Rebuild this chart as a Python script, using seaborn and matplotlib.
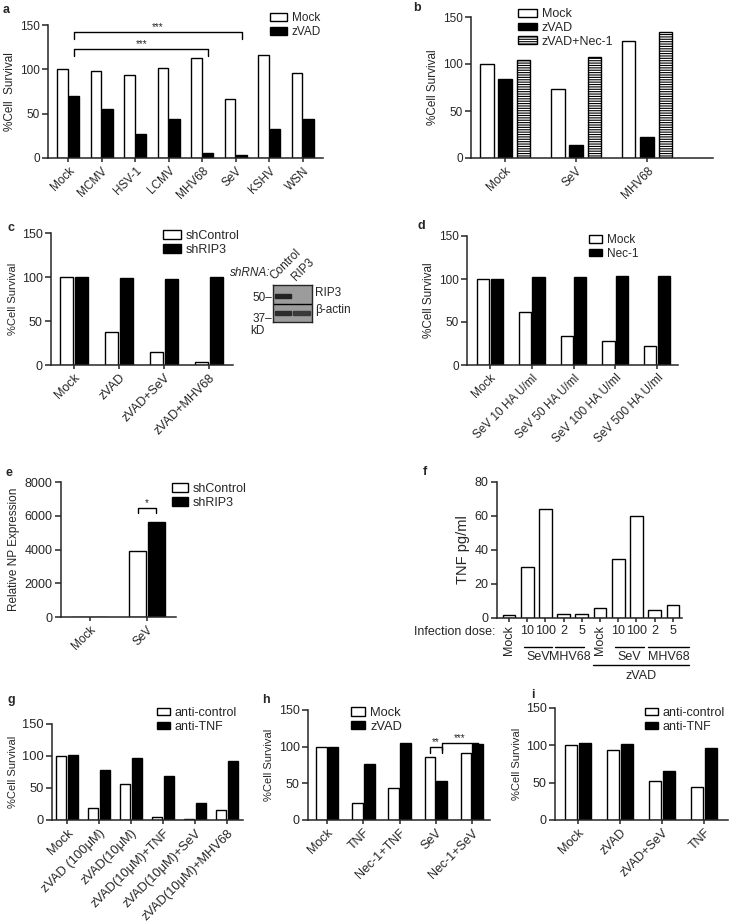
import pandas as pd
import seaborn as sns
import matplotlib.pyplot as plt
from matplotlib.patches import Patch, Rectangle

sns.set_theme(style="ticks")
plt.rcParams['font.family'] = ['Liberation Sans', 'DejaVu Sans']
plt.rcParams['hatch.linewidth'] = 0.8

W, H = 730, 923

# ---- data ----
a_cats = ["Mock", "MCMV", "HSV-1", "LCMV", "MHV68", "SeV", "KSHV", "WSN"]
a_mock = [100, 98, 94, 102, 113, 67, 116, 96]
a_zvad = [70, 55, 27, 44, 6, 3, 33, 44]

b_cats = ["Mock", "SeV", "MHV68"]
b_mock = [100, 73, 124]
b_zvad = [84, 14, 22]
b_nec = [104, 107, 134]

c_cats = ["Mock", "zVAD", "zVAD+SeV", "zVAD+MHV68"]
c_shctrl = [100, 38, 15, 3]
c_shrip3 = [100, 99, 98, 100]

d_cats = ["Mock", "SeV 10 HA U/ml", "SeV 50 HA U/ml", "SeV 100 HA U/ml", "SeV 500 HA U/ml"]
d_mock = [100, 62, 34, 28, 22]
d_nec = [100, 102, 102, 103, 104]

e_cats = ["Mock", "SeV"]
e_shctrl = [0, 3900]
e_shrip3 = [0, 5650]

f_conds = ["Mock", "SeV 10", "SeV 100", "MHV68 2", "MHV68 5",
           "zVAD Mock", "zVAD SeV 10", "zVAD SeV 100", "zVAD MHV68 2", "zVAD MHV68 5"]
f_dose = ["Mock", "10", "100", "2", "5", "Mock", "10", "100", "2", "5"]
f_tnf = [2, 30, 64, 2.5, 2.5, 6, 35, 60, 4.5, 7.5]

g_cats = ["Mock", "zVAD (100μM)", "zVAD(10μM)", "zVAD(10μM)+TNF",
          "zVAD(10μM)+SeV", "zVAD(10μM)+MHV68"]
g_ctrl = [100, 18, 57, 5, 2, 16]
g_tnf = [102, 78, 97, 68, 27, 92]

h_cats = ["Mock", "TNF", "Nec-1+TNF", "SeV", "Nec-1+SeV"]
h_mock = [100, 23, 44, 86, 92]
h_zvad = [99, 77, 105, 53, 103]

i_cats = ["Mock", "zVAD", "zVAD+SeV", "TNF"]
i_ctrl = [100, 94, 52, 44]
i_tnf = [103, 102, 65, 97]

HATCH = "-------"

fig = plt.figure(figsize=(W / 100, H / 100), dpi=100)
fig.patch.set_facecolor("white")


def px_axes(x0, y0, x1, y1):
    return fig.add_axes([x0 / W, 1 - y1 / H, (x1 - x0) / W, (y1 - y0) / H])


def ftext(x, y, s, **kw):
    fig.text(x / W, 1 - y / H, s, **kw)


def long_df(cats, series):
    rows = []
    for name, vals in series.items():
        for c, v in zip(cats, vals):
            rows.append({"cat": c, "grp": name, "val": v})
    return pd.DataFrame(rows)


def style(ax, xlim, ylim, yticks, ylabel, fs=8, ylfs=7.5, rot=45, yfs=None):
    ax.set_xlim(*xlim)
    ax.set_ylim(*ylim)
    ax.set_yticks(yticks)
    ax.set_xlabel("")
    ax.set_ylabel(ylabel, fontsize=ylfs, labelpad=3)
    sns.despine(ax=ax)
    for s in ["left", "bottom"]:
        ax.spines[s].set_linewidth(1.1)
    ax.tick_params(axis="both", width=1.1, length=4, labelsize=fs, pad=2)
    ax.tick_params(axis="x", length=3)
    if yfs:
        ax.tick_params(axis="y", labelsize=yfs)
    if rot:
        for t in ax.get_xticklabels():
            t.set_rotation(rot)
            t.set_ha("right")
            t.set_va("top")
            t.set_rotation_mode("anchor")


def bar_panel(rect, cats, series, colors, width=0.7, gap=0.1):
    ax = px_axes(*rect)
    df = long_df(cats, series)
    sns.barplot(data=df, x="cat", y="val", hue="grp", order=cats,
                hue_order=list(series), palette=dict(zip(series, colors)),
                edgecolor="black", linewidth=1.0, width=width, gap=gap,
                errorbar=None, legend=False, ax=ax)
    return ax


def legend(ax, names, colors, x, y, fs=8.5, hatches=None, hl=1.45, hh=0.7):
    hatches = hatches or [None] * len(names)
    handles = [Patch(facecolor=c, edgecolor="black", linewidth=1.0, hatch=h)
               for c, h in zip(colors, hatches)]
    ax.legend(handles=handles, labels=names, loc="upper left",
              bbox_to_anchor=(x / W, 1 - y / H), bbox_transform=fig.transFigure,
              frameon=False, fontsize=fs, handlelength=hl, handleheight=hh,
              handletextpad=0.4, labelspacing=0.15, borderpad=0, borderaxespad=0)


def bracket(ax, x0, x1, y, leg0, leg1, label, fs=7):
    ax.plot([x0, x0, x1, x1], [y - leg0, y, y, y - leg1], color="black",
            lw=1.0, clip_on=False)
    ax.text((x0 + x1) / 2, y, label, ha="center", va="bottom", fontsize=fs)


BW = ["white", "black"]

# ---- a ----
ax = bar_panel((48, 25, 323, 158), a_cats, {"Mock": a_mock, "zVAD": a_zvad}, BW)
style(ax, (-0.6, 7.6), (0, 150), [0, 50, 100, 150], "%Cell  Survival", fs=8.5, ylfs=8.5)
legend(ax, ["Mock", "zVAD"], BW, 270, 12, fs=8.5)
bracket(ax, 0.18, 5.18, 142, 8, 8, "***")
bracket(ax, 0.18, 4.18, 123, 8, 8, "***")
ftext(3, 10, "a", fontsize=9, fontweight="bold", va="center")

# ---- b ----
ax = bar_panel((471, 17, 713, 158), b_cats,
               {"Mock": b_mock, "zVAD": b_zvad, "zVAD+Nec-1": b_nec},
               ["white", "black", "white"], width=0.78, gap=0.25)
for p in ax.containers[2]:
    p.set_hatch(HATCH)
style(ax, (-0.48, 2.93), (0, 150), [0, 50, 100, 150], "%Cell Survival", fs=8.5, ylfs=8.5)
legend(ax, ["Mock", "zVAD", "zVAD+Nec-1"], ["white", "black", "white"], 518, 8,
       fs=9, hatches=[None, None, HATCH], hl=1.5, hh=0.6)
ftext(413, 8, "b", fontsize=9, fontweight="bold", va="center")

# ---- c ----
ax = bar_panel((51, 233, 233, 365), c_cats, {"shControl": c_shctrl, "shRIP3": c_shrip3}, BW,
               width=0.65, gap=0.1)
style(ax, (-0.51, 3.53), (0, 150), [0, 50, 100, 150], "%Cell Survival", fs=9, ylfs=8)
legend(ax, ["shControl", "shRIP3"], BW, 163, 230, fs=9, hl=1.4, hh=0.65)
ftext(8, 228, "c", fontsize=9, fontweight="bold", va="center")

# western blot inset
wb = px_axes(273, 285, 312, 322)
wb.set_xlim(0, 1)
wb.set_ylim(0, 1)
wb.set_facecolor("#9c9c9c")
wb.set_xticks([])
wb.set_yticks([])
for s in wb.spines.values():
    s.set_linewidth(1.0)
wb.axhline(0.5, color="black", lw=1.0)
wb.add_patch(Rectangle((0.06, 0.66), 0.4, 0.11, color="#222222"))
wb.add_patch(Rectangle((0.06, 0.18), 0.4, 0.12, color="#2c2c2c"))
wb.add_patch(Rectangle((0.52, 0.18), 0.42, 0.12, color="#3a3a3a"))
ftext(270, 273, "shRNA:", fontsize=8.5, style="italic", ha="right", va="center")
ftext(276, 282, "Control", fontsize=8.5, rotation=45, ha="left", va="bottom",
      rotation_mode="anchor")
ftext(298, 283, "RIP3", fontsize=8.5, rotation=45, ha="left", va="bottom",
      rotation_mode="anchor")
ftext(315, 293, "RIP3", fontsize=8.5, ha="left", va="center")
ftext(315, 310, "β-actin", fontsize=8.5, ha="left", va="center")
ftext(272, 298, "50–", fontsize=8.5, ha="right", va="center")
ftext(272, 319, "37–", fontsize=8.5, ha="right", va="center")
ftext(250, 331, "kD", fontsize=8.5, ha="left", va="center")

# ---- d ----
ax = bar_panel((467, 236, 678, 365), d_cats, {"Mock": d_mock, "Nec-1": d_nec}, BW,
               width=0.65, gap=0.1)
style(ax, (-0.55, 4.5), (0, 150), [0, 50, 100, 150], "%Cell Survival", fs=8.5, ylfs=8.5)
legend(ax, ["Mock", "Nec-1"], BW, 589, 234, fs=8.5, hl=1.1, hh=0.6)
ftext(418, 226, "d", fontsize=9, fontweight="bold", va="center")

# ---- e ----
ax = bar_panel((61, 482, 176, 617), e_cats, {"shControl": e_shctrl, "shRIP3": e_shrip3}, BW,
               width=0.65, gap=0.1)
style(ax, (-0.51, 1.51), (0, 8000), [0, 2000, 4000, 6000, 8000], "Relative NP Expression",
      fs=8.5, ylfs=8.5, yfs=9)
legend(ax, ["shControl", "shRIP3"], BW, 172, 483, fs=9, hl=1.25, hh=0.65)
bracket(ax, 1 - 0.16, 1 + 0.16, 6450, 300, 300, "*")
ftext(5, 473, "e", fontsize=9, fontweight="bold", va="center")

# ---- f ----
ax = px_axes(497, 482, 682, 618)
sns.barplot(x=f_conds, y=f_tnf, order=f_conds, color="white", edgecolor="black",
            linewidth=1.0, width=0.7, errorbar=None, ax=ax)
style(ax, (-0.66, 9.5), (0, 80), [0, 20, 40, 60, 80], "TNF pg/ml", fs=9, ylfs=10.5, rot=0)
ax.set_xticks(range(len(f_dose)))
ax.set_xticklabels(f_dose, fontsize=9)
for t in ax.get_xticklabels():
    if t.get_text() == "Mock":
        t.set_rotation(90)
        t.set_va("top")
xt = ax.get_xaxis_transform()
ax.text(-0.75, -0.1, "Infection dose:", transform=xt, ha="right", va="center", fontsize=9)
for x0, x1, y, lab, ty in [(0.85, 2.35, -0.213, "SeV", -0.29),
                          (2.55, 4.1, -0.213, "MHV68", -0.29),
                          (5.8, 7.4, -0.213, "SeV", -0.29),
                          (7.65, 9.9, -0.213, "MHV68", -0.29),
                          (4.6, 9.9, -0.346, "zVAD", -0.43)]:
    ax.plot([x0, x1], [y, y], color="black", lw=1.0, transform=xt, clip_on=False)
    ax.text((x0 + x1) / 2, ty, lab, transform=xt, ha="center", va="center", fontsize=9)
ftext(423, 472, "f", fontsize=9, fontweight="bold", va="center")

# ---- g ----
ax = bar_panel((52, 724, 243, 820), g_cats, {"anti-control": g_ctrl, "anti-TNF": g_tnf}, BW,
               width=0.7, gap=0.1)
style(ax, (-0.47, 5.5), (0, 150), [0, 50, 100, 150], "%Cell Survival", fs=9.3, ylfs=8)
legend(ax, ["anti-control", "anti-TNF"], BW, 157, 707, fs=9, hl=1.0, hh=0.5)
ftext(8, 700, "g", fontsize=9, fontweight="bold", va="center")

# ---- h ----
ax = bar_panel((308, 710, 490, 820), h_cats, {"Mock": h_mock, "zVAD": h_zvad}, BW,
               width=0.65, gap=0.1)
style(ax, (-0.53, 4.5), (0, 150), [0, 50, 100, 150], "%Cell Survival", fs=9, ylfs=8)
legend(ax, ["Mock", "zVAD"], BW, 351, 707, fs=9.3, hl=1.1, hh=0.6)
bracket(ax, 3 - 0.16, 3 + 0.16, 100, 8, 8, "**")
bracket(ax, 3.16, 4.16, 105, 10, 8, "***")
ftext(262, 700, "h", fontsize=9, fontweight="bold", va="center")

# ---- i ----
ax = bar_panel((555, 708, 728, 820), i_cats, {"anti-control": i_ctrl, "anti-TNF": i_tnf}, BW,
               width=0.65, gap=0.1)
style(ax, (-0.55, 3.57), (0, 150), [0, 50, 100, 150], "%Cell Survival", fs=9, ylfs=8)
legend(ax, ["anti-control", "anti-TNF"], BW, 645, 707, fs=9, hl=1.0, hh=0.5)
ftext(531, 695, "i", fontsize=9, fontweight="bold", va="center")

fig.savefig("out.png", dpi=100, facecolor="white")
